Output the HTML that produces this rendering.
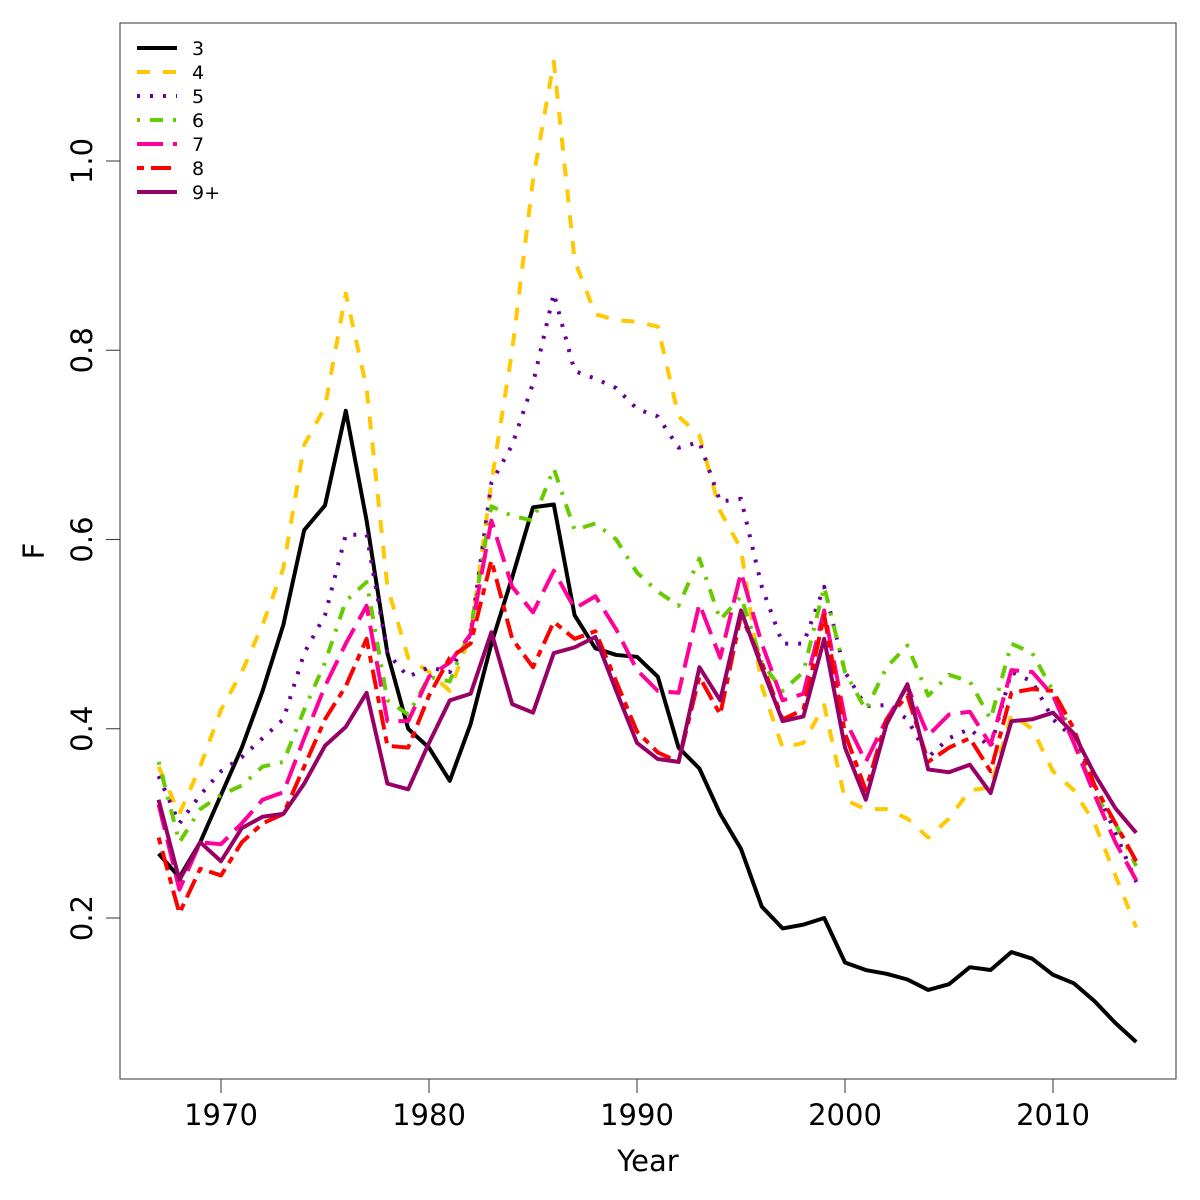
<!DOCTYPE html>
<html><head><meta charset="utf-8"><style>
body{margin:0;background:#fff}
svg{display:block;font-family:"DejaVu Sans","Liberation Sans",sans-serif}
</style></head><body>
<svg id="chart" width="1200" height="1200">
<rect x="120" y="23" width="1056" height="1056" fill="none" stroke="#333" stroke-width="1"/>
<g id="axes"></g><g id="series"></g><g id="legend"></g>
<text x="648" y="1171" font-size="29" text-anchor="middle">Year</text>
<text transform="translate(44,551) rotate(-90)" font-size="29" text-anchor="middle">F</text>
</svg>
<script>
const years=[];for(let y=1967;y<=2014;y++)years.push(y);
const xTicks=[1970,1980,1990,2000,2010];
const yTicks=[0.2,0.4,0.6,0.8,1.0];
const yTickLabels=["0.2","0.4","0.6","0.8","1.0"];
const seriesNames=["3","4","5","6","7","8","9+"];
const s3=[0.268,0.243,0.28,0.33,0.38,0.44,0.51,0.61,0.636,0.736,0.62,0.48,0.40,0.38,0.345,0.405,0.49,0.56,0.634,0.637,0.52,0.485,0.478,0.476,0.455,0.38,0.358,0.31,0.273,0.212,0.189,0.193,0.2,0.153,0.145,0.141,0.135,0.124,0.13,0.148,0.145,0.164,0.157,0.14,0.131,0.112,0.089,0.069];
const s4=[0.36,0.31,0.36,0.42,0.46,0.51,0.57,0.70,0.74,0.86,0.76,0.55,0.475,0.46,0.44,0.50,0.66,0.80,0.98,1.105,0.895,0.838,0.832,0.83,0.825,0.73,0.71,0.63,0.59,0.445,0.38,0.385,0.425,0.325,0.315,0.315,0.305,0.285,0.305,0.335,0.338,0.415,0.40,0.355,0.335,0.30,0.245,0.19];
const s5=[0.35,0.30,0.33,0.355,0.37,0.39,0.41,0.48,0.52,0.605,0.605,0.48,0.455,0.465,0.46,0.50,0.66,0.70,0.765,0.86,0.778,0.77,0.76,0.738,0.73,0.697,0.703,0.64,0.643,0.55,0.49,0.49,0.55,0.46,0.424,0.425,0.41,0.37,0.39,0.40,0.38,0.46,0.45,0.41,0.39,0.34,0.29,0.238];
const s6=[0.365,0.28,0.315,0.33,0.34,0.36,0.365,0.42,0.47,0.535,0.555,0.43,0.415,0.455,0.45,0.505,0.635,0.625,0.62,0.675,0.61,0.617,0.60,0.565,0.545,0.53,0.58,0.515,0.54,0.47,0.44,0.46,0.55,0.46,0.42,0.465,0.488,0.435,0.457,0.45,0.41,0.49,0.48,0.44,0.39,0.33,0.30,0.255];
const s7=[0.32,0.23,0.28,0.278,0.30,0.325,0.333,0.39,0.445,0.49,0.53,0.408,0.408,0.455,0.47,0.50,0.62,0.55,0.523,0.567,0.527,0.54,0.505,0.462,0.44,0.438,0.532,0.475,0.565,0.49,0.43,0.437,0.525,0.41,0.365,0.41,0.445,0.393,0.415,0.418,0.383,0.462,0.46,0.435,0.385,0.33,0.28,0.24];
const s8=[0.285,0.205,0.252,0.245,0.28,0.30,0.31,0.36,0.41,0.445,0.495,0.382,0.38,0.435,0.475,0.49,0.578,0.495,0.465,0.513,0.495,0.503,0.45,0.397,0.375,0.365,0.455,0.415,0.52,0.47,0.41,0.42,0.52,0.395,0.335,0.41,0.435,0.365,0.38,0.39,0.355,0.438,0.442,0.44,0.40,0.34,0.30,0.26];
const s9=[0.325,0.24,0.28,0.26,0.295,0.307,0.31,0.342,0.382,0.402,0.438,0.342,0.336,0.385,0.43,0.437,0.502,0.426,0.417,0.48,0.486,0.497,0.44,0.385,0.368,0.365,0.465,0.43,0.525,0.465,0.408,0.413,0.495,0.38,0.325,0.405,0.447,0.357,0.354,0.362,0.332,0.408,0.41,0.417,0.395,0.352,0.316,0.29];
const allSeries=[s3,s4,s5,s6,s7,s8,s9];
const colors=["#000000","#FFC800","#660099","#66CC00","#FF0099","#FF0000","#990066"];
const dashes=["","13,13","3,10","3,10,13,10","26,10","7,7,20,7",""];
const X=y=>221+(y-1970)*20.8;
const Y=v=>918-(v-0.2)*946.25;
const NS="http://www.w3.org/2000/svg";
function mk(t,a,p){const e=document.createElementNS(NS,t);for(const k in a)e.setAttribute(k,a[k]);p.appendChild(e);return e;}
const ax=document.getElementById('axes');
mk('line',{x1:X(1970),x2:X(2010),y1:1079,y2:1079,stroke:'#333'},ax);
xTicks.forEach(t=>{const l=mk('line',{x1:X(t),x2:X(t),y1:1079,y2:1093,stroke:'#333'},ax);


const tx=mk('text',{x:X(t),y:1125,'font-size':29,'text-anchor':'middle'},ax);tx.textContent=t;

});
mk('line',{x1:120,x2:120,y1:Y(0.2),y2:Y(1.0),stroke:'#333'},ax);
yTicks.forEach((t,i)=>{const l=mk('line',{x1:106,x2:120,y1:Y(t),y2:Y(t),stroke:'#333'},ax);


const tx=mk('text',{transform:`translate(92,${Y(t)}) rotate(-90)`,'font-size':29,'text-anchor':'middle'},ax);tx.textContent=yTickLabels[i];

});
const sg=document.getElementById('series');
allSeries.forEach((s,i)=>{const p=mk('polyline',{points:s.map((v,j)=>X(years[j])+','+Y(v)).join(' '),fill:'none',stroke:colors[i],'stroke-width':4,'stroke-dasharray':dashes[i],'stroke-linejoin':'round'},sg);

});
const lg=document.getElementById('legend');
seriesNames.forEach((n,i)=>{const y=48+i*24;
const l=mk('line',{x1:137,x2:177,y1:y,y2:y,stroke:colors[i],'stroke-width':4,'stroke-dasharray':dashes[i]},lg);


const t=mk('text',{x:192,y:y+7,'font-size':19},lg);t.textContent=n;

});
</script>
</body></html>
